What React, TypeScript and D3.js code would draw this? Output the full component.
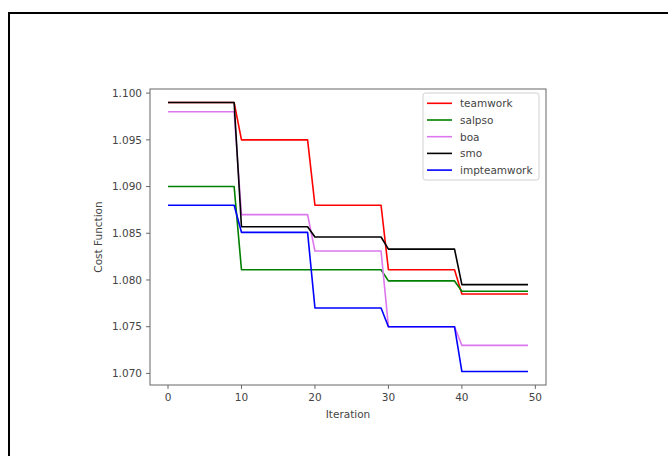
import React from "react";
import * as d3 from "d3";

const iterations: number[] = Array.from({ length: 50 }, (_, i) => i);

const teamwork = [
  1.099, 1.099, 1.099, 1.099, 1.099, 1.099, 1.099, 1.099, 1.099, 1.099,
  1.095, 1.095, 1.095, 1.095, 1.095, 1.095, 1.095, 1.095, 1.095, 1.095,
  1.088, 1.088, 1.088, 1.088, 1.088, 1.088, 1.088, 1.088, 1.088, 1.088,
  1.0811, 1.0811, 1.0811, 1.0811, 1.0811, 1.0811, 1.0811, 1.0811, 1.0811, 1.0811,
  1.0785, 1.0785, 1.0785, 1.0785, 1.0785, 1.0785, 1.0785, 1.0785, 1.0785, 1.0785,
];
const salpso = [
  1.09, 1.09, 1.09, 1.09, 1.09, 1.09, 1.09, 1.09, 1.09, 1.09,
  1.0811, 1.0811, 1.0811, 1.0811, 1.0811, 1.0811, 1.0811, 1.0811, 1.0811, 1.0811,
  1.0811, 1.0811, 1.0811, 1.0811, 1.0811, 1.0811, 1.0811, 1.0811, 1.0811, 1.0811,
  1.0799, 1.0799, 1.0799, 1.0799, 1.0799, 1.0799, 1.0799, 1.0799, 1.0799, 1.0799,
  1.0788, 1.0788, 1.0788, 1.0788, 1.0788, 1.0788, 1.0788, 1.0788, 1.0788, 1.0788,
];
const boa = [
  1.098, 1.098, 1.098, 1.098, 1.098, 1.098, 1.098, 1.098, 1.098, 1.098,
  1.087, 1.087, 1.087, 1.087, 1.087, 1.087, 1.087, 1.087, 1.087, 1.087,
  1.0831, 1.0831, 1.0831, 1.0831, 1.0831, 1.0831, 1.0831, 1.0831, 1.0831, 1.0831,
  1.075, 1.075, 1.075, 1.075, 1.075, 1.075, 1.075, 1.075, 1.075, 1.075,
  1.073, 1.073, 1.073, 1.073, 1.073, 1.073, 1.073, 1.073, 1.073, 1.073,
];
const smo = [
  1.099, 1.099, 1.099, 1.099, 1.099, 1.099, 1.099, 1.099, 1.099, 1.099,
  1.0857, 1.0857, 1.0857, 1.0857, 1.0857, 1.0857, 1.0857, 1.0857, 1.0857, 1.0857,
  1.0846, 1.0846, 1.0846, 1.0846, 1.0846, 1.0846, 1.0846, 1.0846, 1.0846, 1.0846,
  1.0833, 1.0833, 1.0833, 1.0833, 1.0833, 1.0833, 1.0833, 1.0833, 1.0833, 1.0833,
  1.0795, 1.0795, 1.0795, 1.0795, 1.0795, 1.0795, 1.0795, 1.0795, 1.0795, 1.0795,
];
const impteamwork = [
  1.088, 1.088, 1.088, 1.088, 1.088, 1.088, 1.088, 1.088, 1.088, 1.088,
  1.0851, 1.0851, 1.0851, 1.0851, 1.0851, 1.0851, 1.0851, 1.0851, 1.0851, 1.0851,
  1.077, 1.077, 1.077, 1.077, 1.077, 1.077, 1.077, 1.077, 1.077, 1.077,
  1.075, 1.075, 1.075, 1.075, 1.075, 1.075, 1.075, 1.075, 1.075, 1.075,
  1.0702, 1.0702, 1.0702, 1.0702, 1.0702, 1.0702, 1.0702, 1.0702, 1.0702, 1.0702,
];

const seriesNames = ["teamwork", "salpso", "boa", "smo", "impteamwork"];
const seriesValues = [teamwork, salpso, boa, smo, impteamwork];
const seriesColors = ["#ff0000", "#008000", "#dd77ee", "#000000", "#0000ff"];

const xTicks = [0, 10, 20, 30, 40, 50];
const yTicks = [1.07, 1.075, 1.08, 1.085, 1.09, 1.095, 1.1];

const W = 668;
const H = 456;
const plot = { left: 150, right: 546, top: 89, bottom: 385 };
const font = "DejaVu Sans, sans-serif";
const fs = 10.5;
const textColor = "#444";

export default function App() {
  const xMin = d3.min(iterations)!;
  const xMax = d3.max(iterations)!;
  const xPad = (xMax - xMin) * 0.05;
  const allY = seriesValues.flat();
  const yMin = d3.min(allY)!;
  const yMax = d3.max(allY)!;
  const yPad = (yMax - yMin) * 0.05;

  const x = d3.scaleLinear().domain([xMin - xPad, xMax + xPad]).range([plot.left, plot.right]);
  const y = d3.scaleLinear().domain([yMin - yPad, yMax + yPad]).range([plot.bottom, plot.top]);

  const line = d3
    .line<number>()
    .x((_, i) => x(iterations[i]))
    .y((d) => y(d));

  const legend = { x: 423, y: 93, w: 116, h: 87, row: 16.7 };

  return (
    <svg
      width={W}
      height={H}
      style={{ position: "absolute", left: 0, top: 0, background: "#fff" }}
    >
      <rect x={0} y={0} width={W} height={H} fill="#fff" />
      <rect x={9} y={13} width={720} height={520} fill="none" stroke="#000" strokeWidth={2} />

      {seriesValues.map((vals, k) => (
        <path
          key={seriesNames[k]}
          d={line(vals) || ""}
          fill="none"
          stroke={seriesColors[k]}
          strokeWidth={1.6}
          strokeLinejoin="round"
        />
      ))}

      <rect
        x={plot.left}
        y={plot.top}
        width={plot.right - plot.left}
        height={plot.bottom - plot.top}
        fill="none"
        stroke="#666"
        strokeWidth={1}
      />

      {xTicks.map((t) => (
        <g key={"x" + t}>
          <line x1={x(t)} x2={x(t)} y1={plot.bottom} y2={plot.bottom + 3.9} stroke="#666" strokeWidth={1} />
          <text
            x={x(t)}
            y={plot.bottom + 15.5}
            textAnchor="middle"
            fontFamily={font}
            fontSize={fs}
            fill={textColor}
          >
            {t}
          </text>
        </g>
      ))}

      {yTicks.map((t) => (
        <g key={"y" + t}>
          <line x1={plot.left - 3.9} x2={plot.left} y1={y(t)} y2={y(t)} stroke="#666" strokeWidth={1} />
          <text
            x={plot.left - 8}
            y={y(t) + 3.8}
            textAnchor="end"
            fontFamily={font}
            fontSize={fs}
            fill={textColor}
          >
            {t.toFixed(3)}
          </text>
        </g>
      ))}

      <text
        x={(plot.left + plot.right) / 2}
        y={418}
        textAnchor="middle"
        fontFamily={font}
        fontSize={fs}
        fill={textColor}
      >
        Iteration
      </text>
      <text
        transform={`translate(101.5, ${(plot.top + plot.bottom) / 2}) rotate(-90)`}
        textAnchor="middle"
        fontFamily={font}
        fontSize={fs}
        fill={textColor}
      >
        Cost Function
      </text>

      <rect
        x={legend.x}
        y={legend.y}
        width={legend.w}
        height={legend.h}
        rx={2.5}
        fill="#fff"
        fillOpacity={0.8}
        stroke="#d0d0d0"
        strokeWidth={1}
      />
      {seriesNames.map((name, k) => {
        const cy = legend.y + 10.3 + k * legend.row;
        return (
          <g key={"l" + name}>
            <line x1={427} x2={452} y1={cy} y2={cy} stroke={seriesColors[k]} strokeWidth={1.6} />
            <text x={460} y={cy + 3.8} fontFamily={font} fontSize={fs} fill={textColor}>
              {name}
            </text>
          </g>
        );
      })}
    </svg>
  );
}
